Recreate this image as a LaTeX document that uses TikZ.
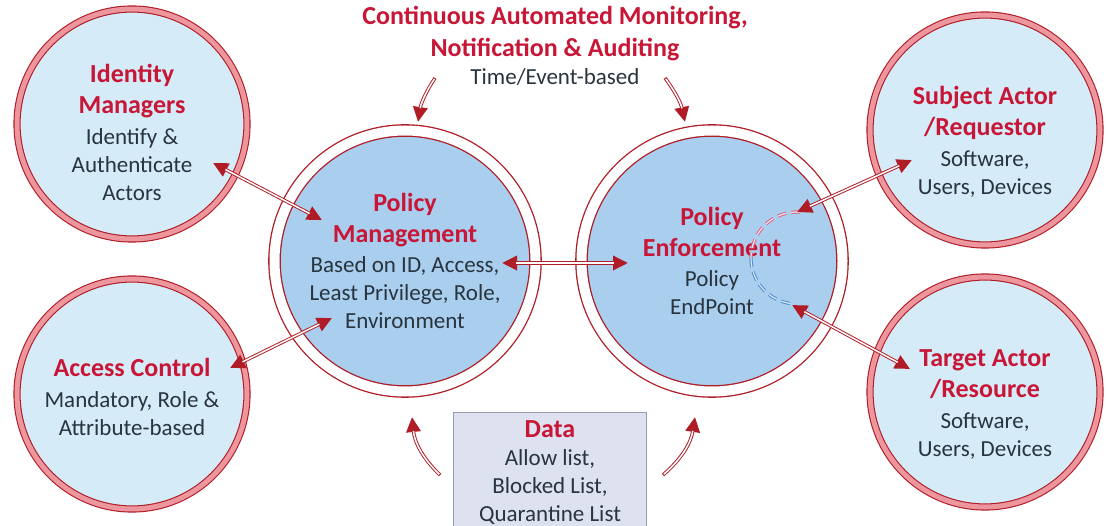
\documentclass[tikz,border=0pt]{standalone}
\usepackage{fontspec}
\setmainfont{Carlito}
\usetikzlibrary{positioning,calc,arrows.meta}
\definecolor{titlered}{RGB}{200,22,55}
\definecolor{ringred}{RGB}{175,28,38}
\definecolor{ringpink}{RGB}{238,150,158}
\definecolor{paleblue}{RGB}{214,235,248}
\definecolor{midblue}{RGB}{170,206,238}
\definecolor{bodygray}{RGB}{40,52,62}
\definecolor{datafill}{RGB}{221,225,240}
\definecolor{dataedge}{RGB}{150,156,178}
\definecolor{dashpink}{RGB}{225,95,125}
\definecolor{dashblue}{RGB}{70,140,205}
\newcommand{\redhead}[1]{{\color{titlered}\fontsize{26}{31}\selectfont\bfseries #1}}

\begin{document}
\begin{tikzpicture}[x=1pt, y=1pt,
            actornode/.style={circle, draw=ringred, double=ringpink, double distance=5pt, line width=1.1pt, fill=paleblue, minimum size=230pt, inner sep=0pt},
            policynode/.style={circle, draw=ringred, double=white, double distance=10pt, line width=1.3pt, fill=midblue, minimum size=261pt, inner sep=0pt},
            bodytext/.style={align=center, text=bodygray, font=\fontsize{23}{28}\selectfont},
            dblarrow/.style={draw=ringred, line width=3.4pt, {Triangle[length=15pt,width=14pt]}-{Triangle[length=15pt,width=14pt]},
                postaction={draw=white, line width=1.5pt, -, shorten <=14pt, shorten >=14pt}},
            flowarrow/.style={draw=ringred, line width=3.4pt, -{Triangle[length=15pt,width=14pt]},
                postaction={draw=white, line width=1.5pt, -, shorten <=1pt, shorten >=14pt}},
            dasharc/.style={double=white!60!midblue, double distance=1.2pt, line width=1pt, dash pattern=on 9pt off 5pt},
        ]
        \useasboundingbox[fill=white] (0,0) rectangle (1108,525);

        \node[actornode] (idm) at (132,401) {};
        \node[actornode] (acc) at (132,131) {};
        \node[actornode] (subj) at (985,395) {};
        \node[actornode] (targ) at (985,133) {};
        \node[bodytext] (idmtxt) at ([yshift=-8pt]idm.center) {\redhead{Identity}\\[3pt]\redhead{Managers}\\[3pt]Identify \&\\Authenticate\\Actors};
        \node[bodytext] (acctxt) at ([yshift=-3pt]acc.center) {\redhead{Access Control}\\[3pt]Mandatory, Role \&\\Attribute-based};
        \node[bodytext] (subjtxt) at ([yshift=-12pt]subj.center) {\redhead{Subject Actor}\\[3pt]\redhead{/Requestor}\\[3pt]Software,\\Users, Devices};
        \node[bodytext] (targtxt) at ([yshift=-13pt]targ.center) {\redhead{Target Actor}\\[3pt]\redhead{/Resource}\\[3pt]Software,\\Users, Devices};

        \node[policynode, bodytext] (pm) at (405,264) {\redhead{Policy}\\[3pt]\redhead{Management}\\[2pt]Based on ID, Access,\\Least Privilege, Role,\\Environment};
        \node[policynode, bodytext] (pe) at (712,264) {\redhead{Policy}\\[3pt]\redhead{Enforcement}\\[2pt]Policy\\EndPoint};

        \node[align=center, text=titlered, font=\fontsize{26}{32}\selectfont\bfseries] (monitor) at (555,491) {Continuous Automated Monitoring,\\Notification \& Auditing};
        \node[bodytext] (timebase) [below=0pt of monitor] {Time/Event-based};

        \node[bodytext, draw=dataedge, fill=datafill, line width=0.8pt, minimum width=193pt, minimum height=120pt, anchor=north] (data) at (550,113) {\redhead{Data}\\Allow list,\\Blocked List,\\Quarantine List};

        \coordinate (bend) at ($(pe)+(85,3)$);
        \draw[dasharc, draw=dashpink] ([shift={(86:46)}]bend) arc[start angle=86, end angle=180, radius=46];
        \draw[dasharc, draw=dashblue] ([shift={(180:46)}]bend) arc[start angle=180, end angle=262, radius=46];

        \draw[dblarrow] ($(idm)+(81,-39)$) -- ($(pm)+(-83,41)$);
        \draw[dblarrow] ($(acc)+(98,26)$) -- ($(pm)+(-73,-57)$);
        \draw[dblarrow] ($(pm)+(97,-2)$) -- ($(pe)+(-84,-2)$);
        \draw[dblarrow] ($(pe)+(85,49)$) -- ($(subj)+(-73,-30)$);
        \draw[dblarrow] ($(pe)+(80,-44)$) -- ($(targ)+(-75,23)$);

        \draw[flowarrow] ($(pm)+(30,183)$) to[bend right=12] ($(pm)+(13,139)$);
        \draw[flowarrow] ($(pe)+(-47,183)$) to[bend left=12] ($(pe)+(-27,139)$);
        \draw[flowarrow] ($(pm)+(35,-214)$) to[bend left=20] ($(pm)+(7,-156)$);
        \draw[flowarrow] ($(pe)+(-49,-214)$) to[bend right=20] ($(pe)+(-17,-156)$);
    \end{tikzpicture}
\end{document}
